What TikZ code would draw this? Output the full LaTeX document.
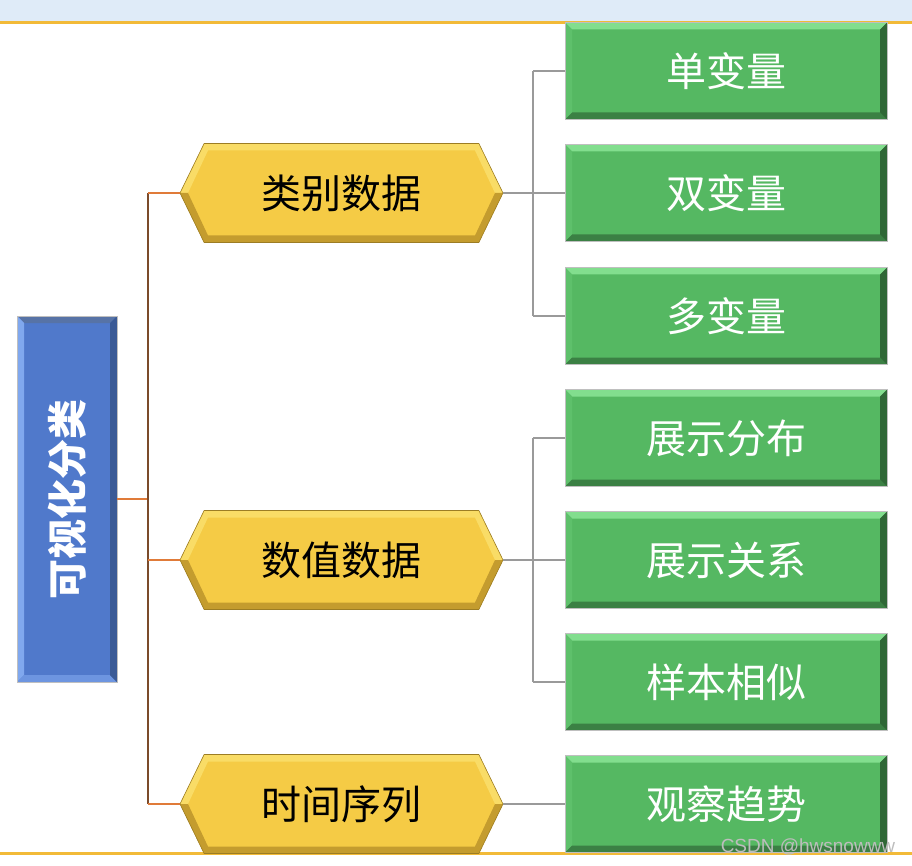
\documentclass[tikz,border=0pt]{standalone}
\usepackage{fontspec}
\usepackage{tikz}
\usetikzlibrary{shapes.symbols,calc}
\newfontfamily\cjk{Noto Sans CJK SC}
\newfontfamily\markfont{Liberation Sans}

\definecolor{rootblue}{HTML}{5079CB}
\definecolor{rootlight}{HTML}{80A8EE}
\definecolor{rootdark}{HTML}{3A5A96}
\definecolor{hexgold}{HTML}{F5CB45}
\definecolor{hexlight}{HTML}{F9DC66}
\definecolor{hexdark}{HTML}{C49C2E}
\definecolor{hexedge}{HTML}{9C7D24}
\definecolor{leafgreen}{HTML}{55B862}
\definecolor{leaflight}{HTML}{82DE8E}
\definecolor{leafdark}{HTML}{3B8044}
\definecolor{branchorange}{HTML}{E07B39}
\definecolor{trunkbrown}{HTML}{7B4B2A}
\definecolor{leafgrey}{HTML}{9A9A9A}
\definecolor{bandblue}{HTML}{DFEBF8}
\definecolor{ruleorange}{HTML}{F2BA38}
\definecolor{markgrey}{HTML}{BDBDBD}

\tikzset{
  rectbevel/.style n args={4}{path picture={
    \coordinate (bvA) at (path picture bounding box.south west);
    \coordinate (bvB) at (path picture bounding box.north east);
    \fill[#1] (bvA |- bvB) -- (bvB) -- ++(-7pt,-7pt) -- ($(bvA |- bvB)+(7pt,-7pt)$) -- cycle;
    \fill[#2] (bvA) -- (bvA |- bvB) -- ++(7pt,-7pt) -- ($(bvA)+(7pt,7pt)$) -- cycle;
    \fill[#3] (bvA) -- (bvB |- bvA) -- ++(-7pt,7pt) -- ($(bvA)+(7pt,7pt)$) -- cycle;
    \fill[#4] (bvB |- bvA) -- (bvB) -- ++(-7pt,-7pt) -- ($(bvB |- bvA)+(-7pt,7pt)$) -- cycle;
  }},
  hexbevel/.style={path picture={
    \coordinate (bvA) at (path picture bounding box.south west);
    \coordinate (bvB) at (path picture bounding box.north east);
    \coordinate (bvW) at ($(bvA)!0.5!(bvA |- bvB)$);
    \coordinate (bvE) at ($(bvB |- bvA)!0.5!(bvB)$);
    \fill[hexlight] (bvW) -- ($(bvA |- bvB)+(24pt,0)$) -- ($(bvB)+(-24pt,0)$) -- (bvE)
      -- ($(bvE)+(-8pt,0)$) -- ($(bvB)+(-28pt,-7pt)$) -- ($(bvA |- bvB)+(28pt,-7pt)$) -- ($(bvW)+(8pt,0)$) -- cycle;
    \fill[hexdark] (bvW) -- ($(bvA)+(24pt,0)$) -- ($(bvB |- bvA)+(-24pt,0)$) -- (bvE)
      -- ($(bvE)+(-8pt,0)$) -- ($(bvB |- bvA)+(-28pt,7pt)$) -- ($(bvA)+(28pt,7pt)$) -- ($(bvW)+(8pt,0)$) -- cycle;
  }}
}

\begin{document}
\begin{tikzpicture}[x=1pt,y=-1pt,
  every node/.style={inner sep=0pt},
  rootbox/.style={rectangle, fill=rootblue, draw=black!25, line width=0.8pt,
    minimum width=100pt, minimum height=366pt, text=white,
    font={\cjk\bfseries\fontsize{40}{42}\selectfont},
    rectbevel={rootdark!85}{rootlight}{rootlight!60!rootblue}{rootdark}},
  catbox/.style={signal, signal to=west and east, signal pointer angle=128,
    fill=hexgold, draw=hexedge, line width=0.6pt,
    minimum width=323pt, minimum height=99pt,
    font={\cjk\fontsize{40}{42}\selectfont}, hexbevel},
  leafbox/.style={rectangle, fill=leafgreen, draw=black!25, line width=0.8pt,
    minimum width=322pt, minimum height=97pt, text=white,
    font={\cjk\fontsize{40}{42}\selectfont},
    rectbevel={leaflight}{leafgreen!80!leaflight}{leafdark}{leafdark!80!black}},
  branch/.style={draw=branchorange, line width=2pt},
  trunkline/.style={draw=trunkbrown, line width=2pt},
  leaf/.style={draw=leafgrey, line width=2pt}]
\useasboundingbox (0,0) rectangle (912,866);
\fill[bandblue] (0,0) rectangle (912,22);
\draw[ruleorange, line width=2.5pt] (0,22.5) -- (912,22.5);
\draw[ruleorange, line width=2.5pt] (0,853.5) -- (912,853.5);

\node[rootbox] (root) at (67,499) {\rotatebox{90}{可视化分类}};

\node[catbox] (cat) at (341.5,193) {类别数据};
\node[catbox] (num) at (341.5,560) {数值数据};
\node[catbox] (time) at (341.5,804) {时间序列};

\node[leafbox] (uni) at (726,71) {单变量};
\node[leafbox] (bi) at (726,193) {双变量};
\node[leafbox] (multi) at (726,316) {多变量};
\node[leafbox] (dist) at (726,438) {展示分布};
\node[leafbox] (rel) at (726,560) {展示关系};
\node[leafbox] (sim) at (726,682) {样本相似};
\node[leafbox] (trend) at (726,804) {观察趋势};

\coordinate (trunk) at (148,499);
\draw[branch] (root.east) -- (trunk);
\draw[trunkline] (trunk |- cat.west) -- (trunk |- time.west);
\draw[branch] (trunk |- cat.west) -- (cat.west);
\draw[branch] (trunk |- num.west) -- (num.west);
\draw[branch] (trunk |- time.west) -- (time.west);

\coordinate (catfork) at (533,193);
\draw[leaf] (cat.east) -- (catfork);
\draw[leaf] (catfork |- uni.west) -- (catfork |- multi.west);
\draw[leaf] (catfork |- uni.west) -- (uni.west);
\draw[leaf] (catfork |- bi.west) -- (bi.west);
\draw[leaf] (catfork |- multi.west) -- (multi.west);

\coordinate (numfork) at (533,560);
\draw[leaf] (num.east) -- (numfork);
\draw[leaf] (numfork |- dist.west) -- (numfork |- sim.west);
\draw[leaf] (numfork |- dist.west) -- (dist.west);
\draw[leaf] (numfork |- rel.west) -- (rel.west);
\draw[leaf] (numfork |- sim.west) -- (sim.west);

\draw[leaf] (time.east) -- (trend.west);

\node[text=markgrey, font={\markfont\fontsize{19}{20}\selectfont}] (mark) at (808,847) {CSDN @hwsnowww};
\end{tikzpicture}
\end{document}
